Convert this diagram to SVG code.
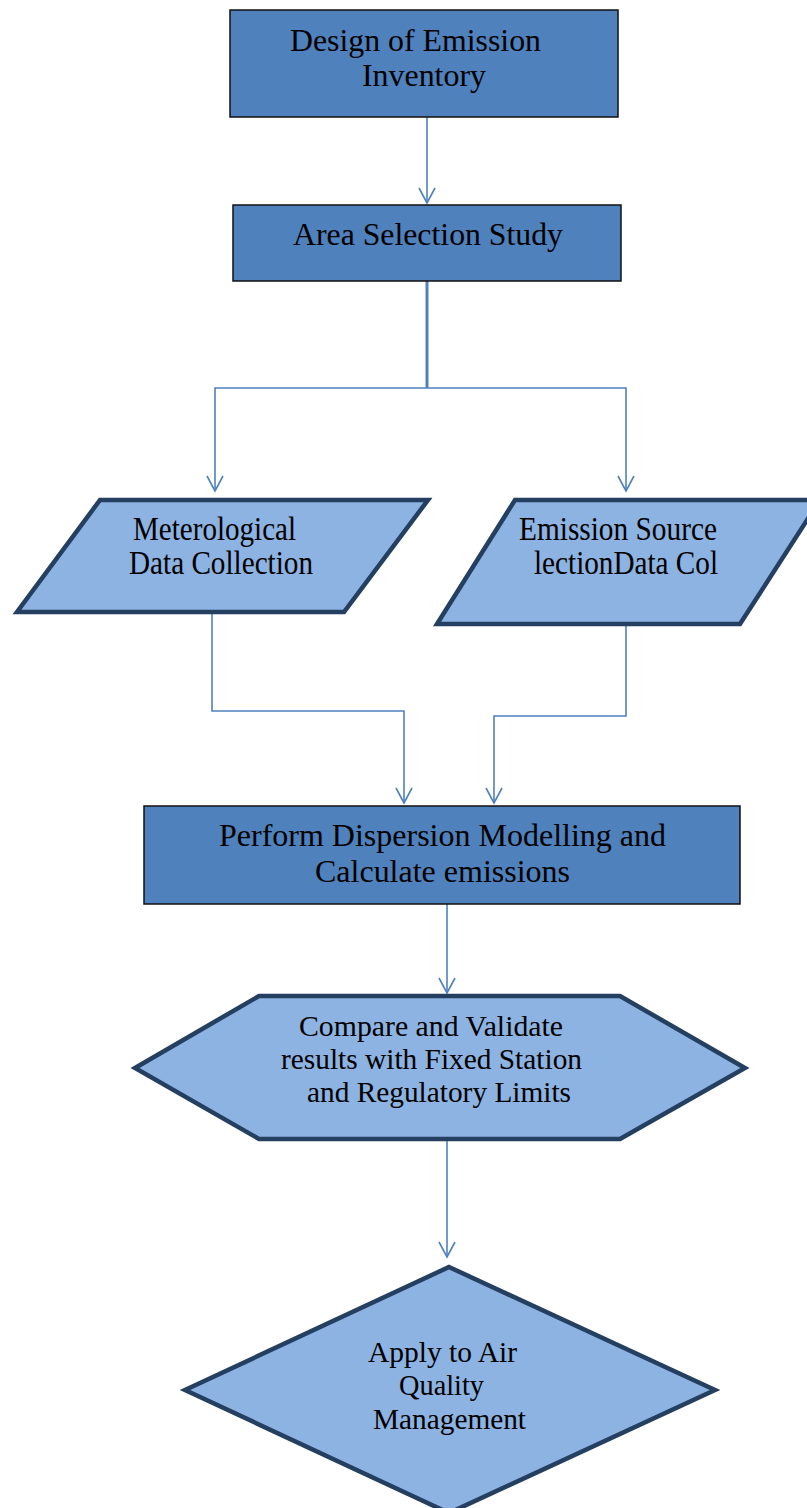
<svg xmlns="http://www.w3.org/2000/svg" width="807" height="1508" viewBox="0 0 807 1508">
  <style>
    .box { fill: #4f81bd; stroke: #111; stroke-width: 1.5; }
    .io { fill: #8db3e2; stroke: #243f60; stroke-width: 4.5; stroke-linejoin: miter; }
    .lbl { font-family: "Liberation Serif", "Times New Roman", serif; fill: #000; }
    .big { font-size: 32px; }
    .mid { font-size: 29px; }
    .cond { font-size: 33px; }
    .wire { fill: none; stroke: #4f81bd; stroke-width: 1.6; }
    .trunk { fill: none; stroke: #4f81bd; stroke-width: 3; }
  </style>
  <defs>
    <!-- open "V" arrowhead pointing along the path direction -->
    <marker id="vee" markerWidth="20" markerHeight="20" refX="16" refY="10" orient="auto" markerUnits="userSpaceOnUse" viewBox="0 0 20 20">
      <path d="M1,2 L16,10 L1,18" fill="none" stroke="#4f81bd" stroke-width="1.6"/>
    </marker>
  </defs>

  <rect width="807" height="1508" fill="#fff"/>

  <!-- connectors -->
  <g id="connectors">
    <path class="wire" d="M427,117 V203" marker-end="url(#vee)"/>
    <path class="trunk" d="M427,281 V388"/>
    <path class="wire" d="M427,388 H215 V491" marker-end="url(#vee)"/>
    <path class="wire" d="M427,388 H626 V491" marker-end="url(#vee)"/>
    <path class="wire" d="M212,612 V711 H404 V803" marker-end="url(#vee)"/>
    <path class="wire" d="M626,624 V716 H494 V803" marker-end="url(#vee)"/>
    <path class="wire" d="M447,904 V993" marker-end="url(#vee)"/>
    <path class="wire" d="M447,1139 V1257" marker-end="url(#vee)"/>
  </g>

  <!-- start step -->
  <g id="design-inventory">
    <rect class="box" x="230" y="10" width="388" height="107"/>
    <text class="lbl big" x="290" y="51" textLength="251" lengthAdjust="spacingAndGlyphs">Design of Emission</text>
    <text class="lbl big" x="362" y="86" textLength="124" lengthAdjust="spacingAndGlyphs">Inventory</text>
  </g>

  <g id="area-selection">
    <rect class="box" x="233" y="205" width="388" height="76"/>
    <text class="lbl big" x="293" y="245" textLength="270" lengthAdjust="spacingAndGlyphs">Area Selection Study</text>
  </g>

  <!-- data inputs -->
  <g id="met-data">
    <polygon class="io" points="100,500 428,500 344,612 17,612"/>
    <text class="lbl cond" x="133" y="540" textLength="163" lengthAdjust="spacingAndGlyphs">Meterological</text>
    <text class="lbl cond" x="129" y="574" textLength="184" lengthAdjust="spacingAndGlyphs">Data Collection</text>
  </g>

  <g id="emission-source">
    <polygon class="io" points="515,500 820,500 740,624 437,624"/>
    <text class="lbl cond" x="519" y="540" textLength="198" lengthAdjust="spacingAndGlyphs">Emission Source</text>
    <text class="lbl cond" x="534" y="574" textLength="184" lengthAdjust="spacingAndGlyphs">lectionData Col</text>
  </g>

  <g id="dispersion-model">
    <rect class="box" x="144" y="806" width="596" height="98"/>
    <text class="lbl big" x="219" y="846" textLength="447" lengthAdjust="spacingAndGlyphs">Perform Dispersion Modelling and</text>
    <text class="lbl big" x="315" y="882" textLength="255" lengthAdjust="spacingAndGlyphs">Calculate emissions</text>
  </g>

  <g id="validate">
    <polygon class="io" points="135,1068 259,996 620,996 745,1068 620,1139 259,1139"/>
    <text class="lbl mid" x="299" y="1036" textLength="264" lengthAdjust="spacingAndGlyphs">Compare and Validate</text>
    <text class="lbl mid" x="281" y="1069" textLength="301" lengthAdjust="spacingAndGlyphs">results with Fixed Station</text>
    <text class="lbl mid" x="307" y="1102" textLength="264" lengthAdjust="spacingAndGlyphs">and Regulatory Limits</text>
  </g>

  <g id="apply-aqm">
    <polygon class="io" points="449,1267 715,1390 449,1513 185,1390"/>
    <text class="lbl mid" x="368" y="1362" textLength="149" lengthAdjust="spacingAndGlyphs">Apply to Air</text>
    <text class="lbl mid" x="399" y="1395" textLength="85" lengthAdjust="spacingAndGlyphs">Quality</text>
    <text class="lbl mid" x="373" y="1429" textLength="153" lengthAdjust="spacingAndGlyphs">Management</text>
  </g>
</svg>
